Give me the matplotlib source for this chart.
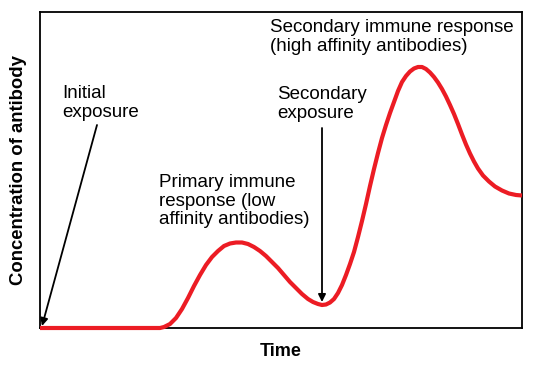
import matplotlib.pyplot as plt

plt.rcParams['font.family'] = ['Liberation Sans', 'DejaVu Sans']

# antibody concentration curve (arbitrary units)
time = [0, 120, 124, 130, 136, 142, 148, 154, 160, 166, 172, 178, 184, 190, 196, 202,
        208, 214, 220, 226, 232, 238, 244, 250, 256, 262, 268, 273, 278, 282, 286, 290,
        294, 298, 302, 306, 310, 314, 318, 322, 326, 330, 334, 338, 342, 346, 350, 354,
        358, 362, 366, 370, 374, 378, 382, 386, 390, 394, 398, 402, 406, 410, 414, 418,
        422, 426, 430, 434, 438, 443, 449, 455, 462, 469, 476, 482]
conc = [0, 0, 1, 4, 10, 19, 30, 42, 53, 63, 71, 77, 82, 84.5, 85.5, 85.5,
        84, 81, 77, 72, 66, 60, 53, 46, 40, 34, 29, 26, 24, 23, 23.5, 25.5,
        29, 35, 43, 53, 64, 76, 91, 107, 124, 142, 159, 175, 190, 203, 215, 226,
        237, 246, 252, 256.5, 259.5, 261, 261, 259, 255.5, 251, 245.5, 239, 231.5, 223, 214, 204,
        193.5, 183.5, 174.5, 166.5, 159.5, 152.5, 146.5, 141.5, 137.5, 134.5, 133, 132.5]

initial_exposure = 0
secondary_exposure = 282

fig = plt.figure(figsize=(5.34, 3.65), dpi=100)
ax = fig.add_axes([40 / 534, 37 / 365, 482 / 534, 316 / 365])

ax.plot(time, conc, color='#ec1c24', linewidth=3, solid_capstyle='butt',
        solid_joinstyle='round', clip_on=False, zorder=3)

ax.set_xlim(0, 482)
ax.set_ylim(0, 316)
ax.set_xticks([])
ax.set_yticks([])
for sp in ax.spines.values():
    sp.set_linewidth(1.3)

ax.set_xlabel('Time', fontsize=13, fontweight='bold', labelpad=11)
ax.set_ylabel('Concentration of antibody', fontsize=13.3, fontweight='bold', labelpad=9)

arrow = dict(arrowstyle='-|>', color='black', lw=1.3, mutation_scale=11, shrinkA=0, shrinkB=0)
fs = 13.5
ls = 1.12

ax.text(22, 243, 'Initial\nexposure', fontsize=fs, va='top', ha='left', linespacing=ls)
ax.annotate('', xy=(initial_exposure + 2, 2), xytext=(57, 203), arrowprops=arrow)

ax.text(119, 154, 'Primary immune\nresponse (low\naffinity antibodies)', fontsize=fs,
        va='top', ha='left', linespacing=ls)

ax.text(237, 242, 'Secondary\nexposure', fontsize=fs, va='top', ha='left', linespacing=ls)
ax.annotate('', xy=(secondary_exposure, 26), xytext=(secondary_exposure, 200), arrowprops=arrow)

ax.text(230, 309, 'Secondary immune response\n(high affinity antibodies)', fontsize=fs,
        va='top', ha='left', linespacing=ls)

fig.savefig('out.png', dpi=100)
